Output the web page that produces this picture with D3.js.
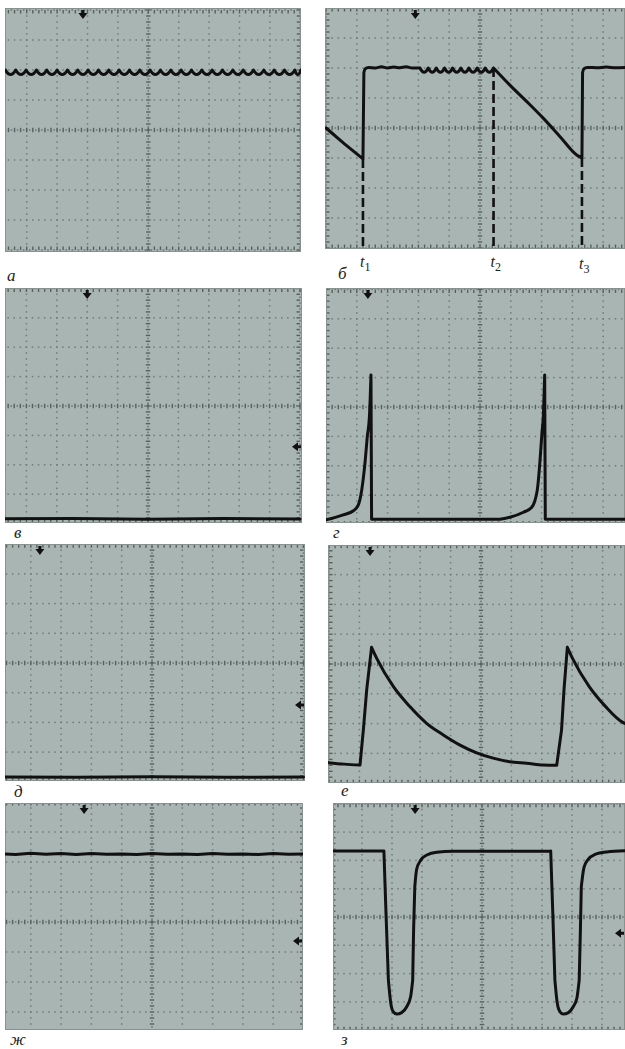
<!DOCTYPE html>
<html>
<head>
<meta charset="utf-8">
<script src="https://cdn.jsdelivr.net/npm/d3@7"></script>
<style>
  body { margin: 0; background: #fff; }
  svg { display: block; }
</style>
</head>
<body>
<script>
// All trace values are in screen divisions: x -5..5, y -4..4 from the graticule centre.

const panelLabels = ['а', 'б', 'в', 'г', 'д', 'е', 'ж', 'з'];

// trigger (top) and level (right) markers, in divisions
const topMarkers = [-2.15, -2.1, -2.0, -3.64, -3.7, -3.65, -2.24, -2.23];
const rightMarkers = [null, null, -1.39, null, -1.41, null, -0.63, -0.57];

// а: constant level with rectifier ripple (cusp positions)
const rippleA = [-4.70, -4.36, -4.02, -3.68, -3.34, -3.00, -2.66, -2.32, -1.98, -1.64,
  -1.30, -0.96, -0.62, -0.28, 0.06, 0.40, 0.74, 1.08, 1.42, 1.76,
  2.10, 2.44, 2.78, 3.12, 3.46, 3.80, 4.14, 4.48, 4.82, 5.02];

// б
const traceB1 = [[-5.0, 0.0], [-4.4, -0.53], [-3.80, -1.03]];
const traceB2 = [[-3.80, -1.03], [-3.77, 1.85]];
const traceB3 = [[-3.77, 1.85], [-3.73, 1.97], [-3.62, 2.02], [-3.4, 2.0], [-3.2, 2.04], [-3.0, 2.0],
  [-2.8, 2.03], [-2.6, 2.01], [-2.4, 2.04], [-2.2, 2.0], [-1.95, 2.0]];
const rippleB = [-1.95, -1.68, -1.42, -1.15, -0.89, -0.62, -0.36, -0.09, 0.17, 0.44];
const traceB4 = [[0.44, 2.0], [0.97, 1.43], [1.52, 0.88], [2.06, 0.32], [2.6, -0.29], [3.14, -0.9], [3.31, -1.0]];
const traceB5 = [[3.31, -1.0], [3.33, 1.85]];
const traceB6 = [[3.33, 1.85], [3.37, 1.97], [3.48, 2.02], [3.8, 2.01], [4.1, 2.03], [4.4, 2.01], [4.75, 2.02]];
const timeMarks = [
  { x: -3.80, y: -1.03, sub: '1' },
  { x: 0.44, y: 2.0, sub: '2' },
  { x: 3.31, y: -1.0, sub: '3' }
];

// в
const traceC = [[-5.0, -3.84], [-2.5, -3.83], [0, -3.85], [2.5, -3.83], [5.0, -3.84]];

// г
const traceD1 = [[-5.0, -3.84], [-4.44, -3.67], [-4.11, -3.53], [-3.95, -3.33], [-3.84, -2.82],
  [-3.73, -1.86], [-3.66, -1.01], [-3.59, -0.33], [-3.54, 1.09]];
const traceD2 = [[-3.54, 1.09], [-3.52, -3.82], [0.65, -3.82]];
const traceD3 = [[0.65, -3.82], [0.97, -3.75], [1.41, -3.58], [1.68, -3.41], [1.86, -2.82],
  [1.95, -1.80], [2.01, -0.9], [2.06, -0.22], [2.10, 1.09]];
const traceD4 = [[2.10, 1.09], [2.12, -3.82], [4.75, -3.82]];

// д
const traceE = [[-5.0, -3.84], [-2.5, -3.85], [0, -3.83], [2.5, -3.85], [5.0, -3.84]];

// е
const traceF1 = [[-5.02, -3.31], [-4.5, -3.36], [-3.98, -3.39]];
const traceF2 = [[-3.98, -3.39], [-3.87, -2.21], [-3.76, -0.87], [-3.60, 0.56]];
const traceF3 = [[-3.60, 0.56], [-3.43, 0.19], [-2.88, -0.76], [-2.34, -1.43], [-1.79, -1.99],
  [-1.24, -2.38], [-0.69, -2.72], [-0.14, -2.98], [0.40, -3.16], [0.95, -3.28], [1.50, -3.33],
  [2.05, -3.39], [2.49, -3.40]];
const traceF4 = [[2.49, -3.40], [2.65, -2.21], [2.73, -0.87], [2.84, 0.56]];
const traceF5 = [[2.84, 0.56], [3.01, 0.19], [3.56, -0.76], [4.10, -1.43], [4.65, -1.95], [4.75, -2.0]];

// ж
const traceG = [[-4.95, 2.27], [-4.5, 2.25], [-4.0, 2.29], [-3.5, 2.26], [-3.0, 2.28], [-2.5, 2.25],
  [-2.0, 2.28], [-1.5, 2.26], [-1.0, 2.27], [-0.5, 2.25], [0, 2.28], [0.5, 2.26], [1.0, 2.27],
  [1.5, 2.25], [2.0, 2.28], [2.5, 2.26], [3.0, 2.27], [3.5, 2.25], [4.0, 2.28], [4.5, 2.26], [5.0, 2.27]];

// з
const traceH1 = [[-4.97, 2.33], [-3.27, 2.33], [-3.2, 0.13], [-3.12, -2.23]];
const traceH2 = [[-3.12, -2.23], [-3.04, -3.05], [-2.96, -3.35], [-2.84, -3.43], [-2.68, -3.38],
  [-2.51, -3.17], [-2.38, -2.82], [-2.31, -2.23]];
const traceH3 = [[-2.31, -2.23], [-2.28, -0.46], [-2.24, 1.07]];
const traceH4 = [[-2.24, 1.07], [-2.18, 1.68], [-2.04, 2.01], [-1.84, 2.19], [-1.51, 2.29], [-0.96, 2.32], [2.29, 2.33]];
const traceH5 = [[2.29, 2.33], [2.36, 0.13], [2.43, -2.23]];
const traceH6 = [[2.43, -2.23], [2.51, -3.05], [2.6, -3.35], [2.71, -3.43], [2.88, -3.38],
  [3.04, -3.17], [3.16, -2.88], [3.24, -2.23]];
const traceH7 = [[3.24, -2.23], [3.28, -0.46], [3.31, 1.07]];
const traceH8 = [[3.31, 1.07], [3.4, 1.75], [3.54, 2.04], [3.77, 2.21], [4.16, 2.30], [4.77, 2.34]];

// pieces per panel: lin = straight segments, smooth = monotone curve, ripple = cusp list
const traces = [
  [{ ripple: rippleA, level: 2.0, depth: 0.15 }],
  [{ lin: traceB1 }, { lin: traceB2 }, { smooth: traceB3 }, { ripple: rippleB, level: 2.0, depth: 0.14 },
   { smooth: traceB4 }, { lin: traceB5 }, { smooth: traceB6 }],
  [{ lin: traceC }],
  [{ smooth: traceD1 }, { lin: traceD2 }, { smooth: traceD3 }, { lin: traceD4 }],
  [{ lin: traceE }],
  [{ smooth: traceF1 }, { lin: traceF2 }, { smooth: traceF3 }, { lin: traceF4 }, { smooth: traceF5 }],
  [{ lin: traceG }],
  [{ lin: traceH1 }, { smooth: traceH2 }, { lin: traceH3 }, { smooth: traceH4 },
   { lin: traceH5 }, { smooth: traceH6 }, { lin: traceH7 }, { smooth: traceH8 }]
];

// screen layout of each photographed scope screen
const panels = [
  { cx: 148.3, cy: 130, dw: 30.4, dh: 30,   box: [5, 8, 301, 252],     label: [7, 281] },
  { cx: 480,   cy: 128, dw: 30.8, dh: 30,   box: [325, 8, 625, 249],   label: [338, 279] },
  { cx: 148,   cy: 406, dw: 30.4, dh: 29.4, box: [5, 288, 302, 523],   label: [14, 538] },
  { cx: 480,   cy: 407, dw: 30.8, dh: 29.4, box: [326, 288, 625, 523], label: [333, 538] },
  { cx: 152,   cy: 663, dw: 30.3, dh: 29.7, box: [5, 544, 305, 781],   label: [14, 797] },
  { cx: 481,   cy: 664, dw: 30.4, dh: 29.8, box: [328, 545, 625, 783], label: [341, 796] },
  { cx: 152,   cy: 922, dw: 30.3, dh: 30,   box: [5, 803, 303, 1030],  label: [10, 1045] },
  { cx: 482,   cy: 917, dw: 30,   dh: 28.3, box: [333, 803, 625, 1030], label: [341, 1045] }
];

const W = 625, H = 1049;
const screenFill = '#a9b5b3';
const dotColor = '#6f7b79';
const tickColor = '#56615f';
const traceColor = '#111';
const serif = '"Liberation Serif", "DejaVu Serif", serif';

const svg = d3.select('body').append('svg')
  .attr('width', W)
  .attr('height', H);

const lin = d3.line().curve(d3.curveLinear);
const smooth = d3.line().curve(d3.curveMonotoneX);

panels.forEach((p, i) => {
  const [x0, y0, x1, y1] = p.box;
  const x = d3.scaleLinear().domain([-5, 5]).range([p.cx - 5 * p.dw, p.cx + 5 * p.dw]);
  const y = d3.scaleLinear().domain([-4, 4]).range([p.cy + 4 * p.dh, p.cy - 4 * p.dh]);

  const g = svg.append('g');
  const clipId = 'clip' + i;
  g.append('clipPath').attr('id', clipId)
    .append('rect').attr('x', x0).attr('y', y0).attr('width', x1 - x0).attr('height', y1 - y0);

  g.append('rect')
    .attr('x', x0).attr('y', y0)
    .attr('width', x1 - x0).attr('height', y1 - y0)
    .attr('fill', screenFill);

  const grid = g.append('g').attr('clip-path', `url(#${clipId})`);

  const subY = d3.range(-40, 41).map(v => v / 10);
  const subX = d3.range(-50, 51).map(v => v / 10);

  // vertical graticule lines
  d3.range(-5, 6).forEach(k => {
    const gx = x(k);
    if (gx < x0 - 2 || gx > x1 + 2) return;
    const edge = Math.abs(gx - x1) < 3 || Math.abs(gx - x0) < 3;
    if (k === 0 || edge) {
      grid.selectAll(null).data(subY.filter((v, j) => j % 2 === 0)).join('line')
        .attr('x1', gx - (edge ? (gx > p.cx ? 3.5 : 0) : 2.2)).attr('x2', gx + (edge ? (gx > p.cx ? 0 : 3.5) : 2.2))
        .attr('y1', d => y(d)).attr('y2', d => y(d))
        .attr('stroke', tickColor).attr('stroke-width', 1.4);
      grid.selectAll(null).data(subY.filter((v, j) => j % 2 === 1)).join('rect')
        .attr('x', gx - 0.8).attr('y', d => y(d) - 0.8)
        .attr('width', 1.6).attr('height', 1.6).attr('fill', dotColor);
    } else {
      grid.selectAll(null).data(subY.filter((v, j) => j % 2 === 0)).join('rect')
        .attr('x', gx - 0.75).attr('y', d => y(d) - 0.75)
        .attr('width', 1.5).attr('height', 1.5).attr('fill', dotColor);
    }
  });

  // horizontal graticule lines
  d3.range(-4, 5).forEach(k => {
    const gy = y(k);
    if (gy < y0 - 2 || gy > y1 + 2) return;
    const edge = Math.abs(gy - y0) < 3 || Math.abs(gy - y1) < 3;
    if (k === 0 || edge) {
      grid.selectAll(null).data(subX.filter((v, j) => j % 2 === 0)).join('line')
        .attr('x1', d => x(d)).attr('x2', d => x(d))
        .attr('y1', gy - (edge ? (gy > p.cy ? 3.5 : 0) : 2.2)).attr('y2', gy + (edge ? (gy > p.cy ? 0 : 3.5) : 2.2))
        .attr('stroke', tickColor).attr('stroke-width', 1.4);
      grid.selectAll(null).data(subX.filter((v, j) => j % 2 === 1)).join('rect')
        .attr('x', d => x(d) - 0.8).attr('y', gy - 0.8)
        .attr('width', 1.6).attr('height', 1.6).attr('fill', dotColor);
    } else {
      grid.selectAll(null).data(subX.filter((v, j) => j % 2 === 0)).join('rect')
        .attr('x', d => x(d) - 0.75).attr('y', gy - 0.75)
        .attr('width', 1.5).attr('height', 1.5).attr('fill', dotColor);
    }
  });

  // thin frame along the photographed screen edge
  grid.append('rect')
    .attr('x', x0 + 0.5).attr('y', y0 + 0.5)
    .attr('width', x1 - x0 - 1).attr('height', y1 - y0 - 1)
    .attr('fill', 'none').attr('stroke', '#87928f').attr('stroke-width', 1);

  // dashed time markers (panel б)
  if (i === 1) {
    grid.selectAll('.tmark').data(timeMarks).join('line')
      .attr('x1', d => x(d.x)).attr('x2', d => x(d.x))
      .attr('y1', d => y(d.y)).attr('y2', y1 + 2)
      .attr('stroke', traceColor).attr('stroke-width', 2.6)
      .attr('stroke-dasharray', '9 4');
  }

  // trace
  const path = d3.path();
  traces[i].forEach(piece => {
    if (piece.ripple) {
      const c = piece.ripple;
      path.moveTo(x(c[0]), y(piece.level));
      for (let j = 1; j < c.length; j++) {
        const mx = (c[j - 1] + c[j]) / 2;
        path.quadraticCurveTo(x(mx), y(piece.level - 2 * piece.depth), x(c[j]), y(piece.level));
      }
    } else if (piece.lin) {
      lin.x(d => x(d[0])).y(d => y(d[1])).context(path)(piece.lin);
    } else {
      smooth.x(d => x(d[0])).y(d => y(d[1])).context(path)(piece.smooth);
    }
  });
  grid.append('path')
    .attr('d', path.toString())
    .attr('fill', 'none')
    .attr('stroke', traceColor)
    .attr('stroke-width', 3)
    .attr('stroke-linejoin', 'round')
    .attr('stroke-linecap', 'round');

  // trigger marker (down arrow at top)
  const mx = x(topMarkers[i]);
  const ty = y0 + 2;
  grid.append('path')
    .attr('d', `M${mx - 1.5},${ty} L${mx + 1.5},${ty} L${mx + 1.5},${ty + 3} L${mx + 4.5},${ty + 3} L${mx},${ty + 9} L${mx - 4.5},${ty + 3} L${mx - 1.5},${ty + 3} Z`)
    .attr('fill', traceColor);

  // level marker (left arrow at right edge)
  if (rightMarkers[i] !== null) {
    const my = y(rightMarkers[i]);
    const rx = x1 - 1;
    grid.append('path')
      .attr('d', `M${rx},${my - 1.5} L${rx},${my + 1.5} L${rx - 3},${my + 1.5} L${rx - 3},${my + 4.5} L${rx - 9},${my} L${rx - 3},${my - 4.5} L${rx - 3},${my - 1.5} Z`)
      .attr('fill', traceColor);
  }

  // panel letter
  svg.append('text')
    .attr('x', p.label[0]).attr('y', p.label[1])
    .style('font-family', serif)
    .style('font-style', 'italic')
    .style('font-size', '17px')
    .attr('fill', '#222')
    .text(panelLabels[i]);

  // t1, t2, t3 under panel б
  if (i === 1) {
    const tl = svg.selectAll('.tl').data(timeMarks).join('text')
      .attr('class', 'tl')
      .attr('x', d => x(d.x) - 3)
      .attr('y', (d, j) => 267 + (j === 2 ? 2 : 0))
      .style('font-family', serif)
      .style('font-style', 'italic')
      .style('font-size', '16px')
      .attr('fill', '#222');
    tl.append('tspan').text('t');
    tl.append('tspan').attr('dy', 4).style('font-size', '12px').style('font-style', 'normal').text(d => d.sub);
  }
});
</script>
</body>
</html>
